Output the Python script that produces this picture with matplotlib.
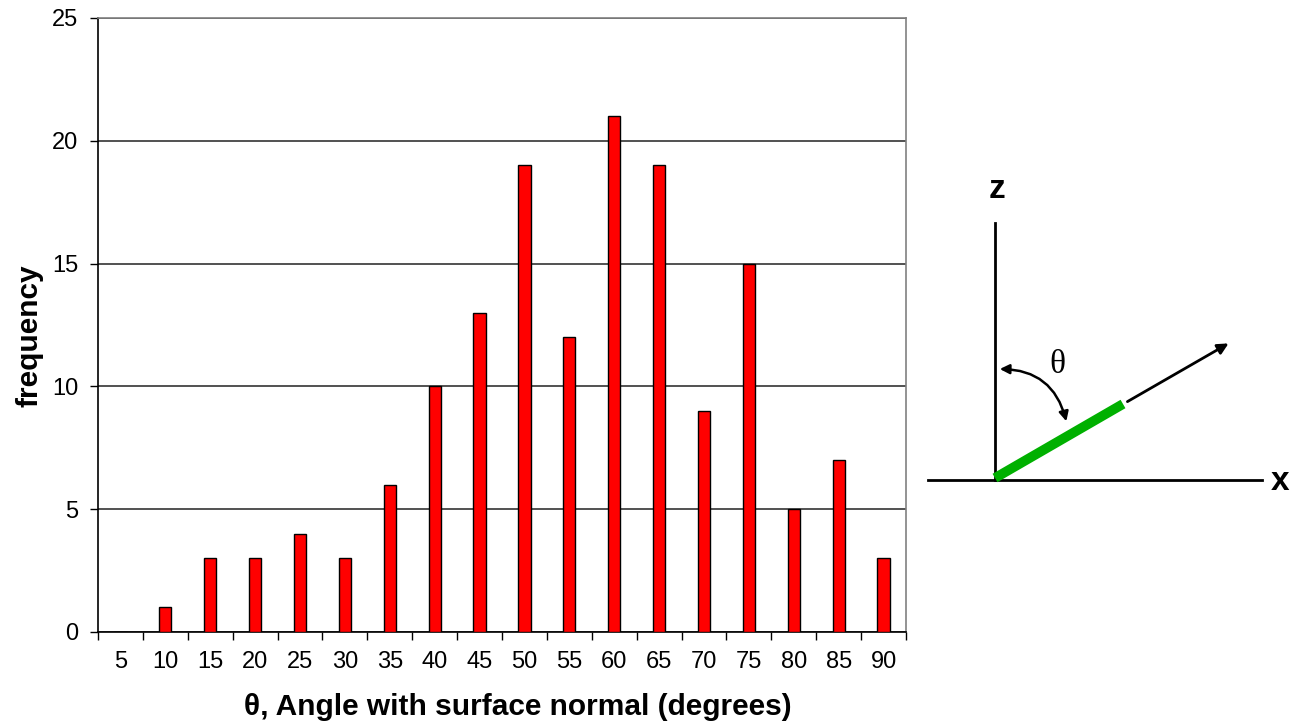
import matplotlib.pyplot as plt
from matplotlib.patches import FancyArrowPatch
import numpy as np

# angle bins (degrees) and counts
angles = [5, 10, 15, 20, 25, 30, 35, 40, 45, 50, 55, 60, 65, 70, 75, 80, 85, 90]
counts = [0, 1, 3, 3, 4, 3, 6, 10, 13, 19, 12, 21, 19, 9, 15, 5, 7, 3]
y_ticks = [0, 5, 10, 15, 20, 25]

plt.rcParams['font.family'] = ['Liberation Sans', 'DejaVu Sans']

W, H = 1300, 723
fig = plt.figure(figsize=(13, 7.23), dpi=100)
ax = fig.add_axes([98 / W, 1 - 632 / H, (906 - 98) / W, (632 - 18) / H])

x = np.arange(len(angles))
ax.bar(x, counts, width=0.27, color='#ff0000', edgecolor='black', linewidth=1, zorder=3)

ax.set_xlim(-0.5, len(angles) - 0.5)
ax.set_ylim(0, 25)
ax.set_yticks(y_ticks)
ax.set_yticklabels([str(v) for v in y_ticks], fontsize=17)
ax.yaxis.grid(True, color='#333333', linewidth=1.2, zorder=0)

# ticks at category boundaries, labels at centres
ax.set_xticks(np.arange(-0.5, len(angles), 1.0))
ax.set_xticklabels([])
ax.set_xticks(x, minor=True)
ax.set_xticklabels([str(a) for a in angles], minor=True, fontsize=17)
ax.tick_params(axis='x', which='major', length=6, width=1, direction='out')
ax.tick_params(axis='x', which='minor', length=0, pad=14)
ax.tick_params(axis='y', length=6, width=1, direction='out', pad=8)

ax.spines['left'].set_color('black')
ax.spines['bottom'].set_color('black')
ax.spines['top'].set_color('#808080')
ax.spines['right'].set_color('#808080')
for s in ax.spines.values():
    s.set_linewidth(1.2)

fig.text(518 / W, 1 - 707 / H, 'θ, Angle with surface normal (degrees)',
         ha='center', va='center', fontsize=21.5, fontweight='bold')
fig.text(30 / W, 1 - 336 / H, 'frequency', rotation=90,
         ha='center', va='center', fontsize=21.5, fontweight='bold')

# schematic on the right, drawn in pixel coordinates
dax = fig.add_axes([0, 0, 1, 1])
dax.set_xlim(0, W)
dax.set_ylim(H, 0)
dax.axis('off')

dax.plot([995, 995], [223, 480], color='black', lw=2)
dax.plot([928, 1262], [480, 480], color='black', lw=2)
dax.plot([995, 1123], [478, 404], color='#00b000', lw=7, solid_capstyle='butt')
dax.add_patch(FancyArrowPatch((1125, 403), (1231, 342), arrowstyle='-|>',
                              mutation_scale=16, color='black', lw=2))
dax.add_patch(FancyArrowPatch((997, 369), (1067, 424), arrowstyle='<|-|>',
                              connectionstyle='arc3,rad=-0.4', mutation_scale=14,
                              color='black', lw=1.8))

dax.text(1057, 365, 'θ', family=['Liberation Serif', 'DejaVu Serif'],
         fontsize=24, ha='center', va='center')
dax.text(997, 190, 'z', fontsize=24, fontweight='bold', ha='center', va='center')
dax.text(1280, 481, 'x', fontsize=24, fontweight='bold', ha='center', va='center')

fig.savefig('out.png', dpi=100)
